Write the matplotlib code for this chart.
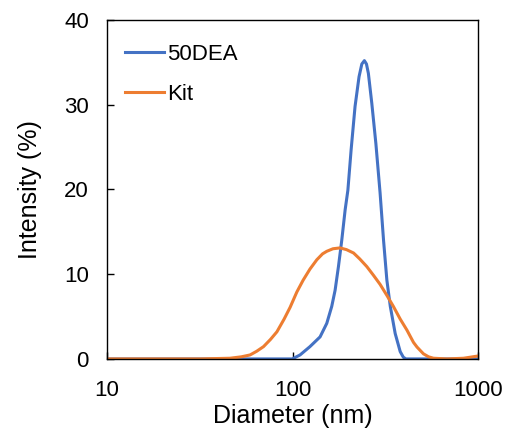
import matplotlib.pyplot as plt

plt.rcParams['font.family'] = ['Liberation Sans', 'DejaVu Sans']

# 50DEA
dea_d = [10, 40, 99.6, 109.7, 124, 140.6, 152.8, 162.5, 169.4, 176.6, 184, 191.9,
         198.5, 206.7, 217, 228, 236, 243.6, 250, 256, 267, 281, 296, 309, 322,
         336, 357, 380, 395, 408, 500, 700, 1000]
dea_i = [0, 0, 0, 0.47, 1.45, 2.6, 4.2, 6.2, 8.1, 10.9, 14.0, 17.6,
         19.9, 24.7, 29.8, 33.3, 34.8, 35.2, 34.8, 33.7, 30.2, 25.4, 19.6, 14.0, 9.3,
         6.2, 3.0, 0.86, 0.2, 0, 0, 0, 0]

# Kit
kit_d = [10, 31.7, 46, 53, 59, 64, 69.7, 76, 82.3, 90, 97, 105.4, 114, 124,
         135, 145, 152.8, 165, 180, 195, 213, 230, 251, 272, 296, 322, 349, 380,
         413, 448, 468, 507, 540, 574, 678, 834, 1000]
kit_i = [0, 0, 0.08, 0.25, 0.47, 0.9, 1.45, 2.3, 3.2, 4.7, 6.1, 7.9, 9.3, 10.6,
         11.7, 12.4, 12.7, 13.0, 13.1, 12.9, 12.5, 11.8, 10.9, 9.9, 8.8, 7.5, 6.2, 4.7,
         3.4, 1.95, 1.4, 0.6, 0.25, 0.08, 0, 0.08, 0.35]

fig = plt.figure(figsize=(5.12, 4.34), dpi=100)
ax = fig.add_axes([0.209, 0.173, 0.725, 0.781])

ax.plot(dea_d, dea_i, color='#4472C4', lw=2.2, label='50DEA', solid_joinstyle='round')
ax.plot(kit_d, kit_i, color='#ED7D31', lw=2.2, label='Kit', solid_joinstyle='round')

ax.set_xscale('log')
ax.set_xlim(10, 1000)
ax.set_ylim(0, 40)
ax.set_xticks([10, 100, 1000])
ax.set_xticklabels(['10', '100', '1000'])
ax.set_yticks([0, 10, 20, 30, 40])
ax.minorticks_off()
ax.tick_params(direction='in', length=5, width=1, labelsize=16, pad=13)
ax.tick_params(axis='x', pad=15)

for s in ax.spines.values():
    s.set_linewidth(1.0)

ax.set_xlabel('Diameter (nm)', fontsize=18, labelpad=2)
ax.set_ylabel('Intensity (%)', fontsize=18, labelpad=16)

ax.legend(loc='upper left', bbox_to_anchor=(0.048, 0.93), frameon=False,
          fontsize=16, handlelength=1.75, handletextpad=0.15, labelspacing=0.88,
          borderpad=0, borderaxespad=0)

fig.savefig('out.png', dpi=100)
